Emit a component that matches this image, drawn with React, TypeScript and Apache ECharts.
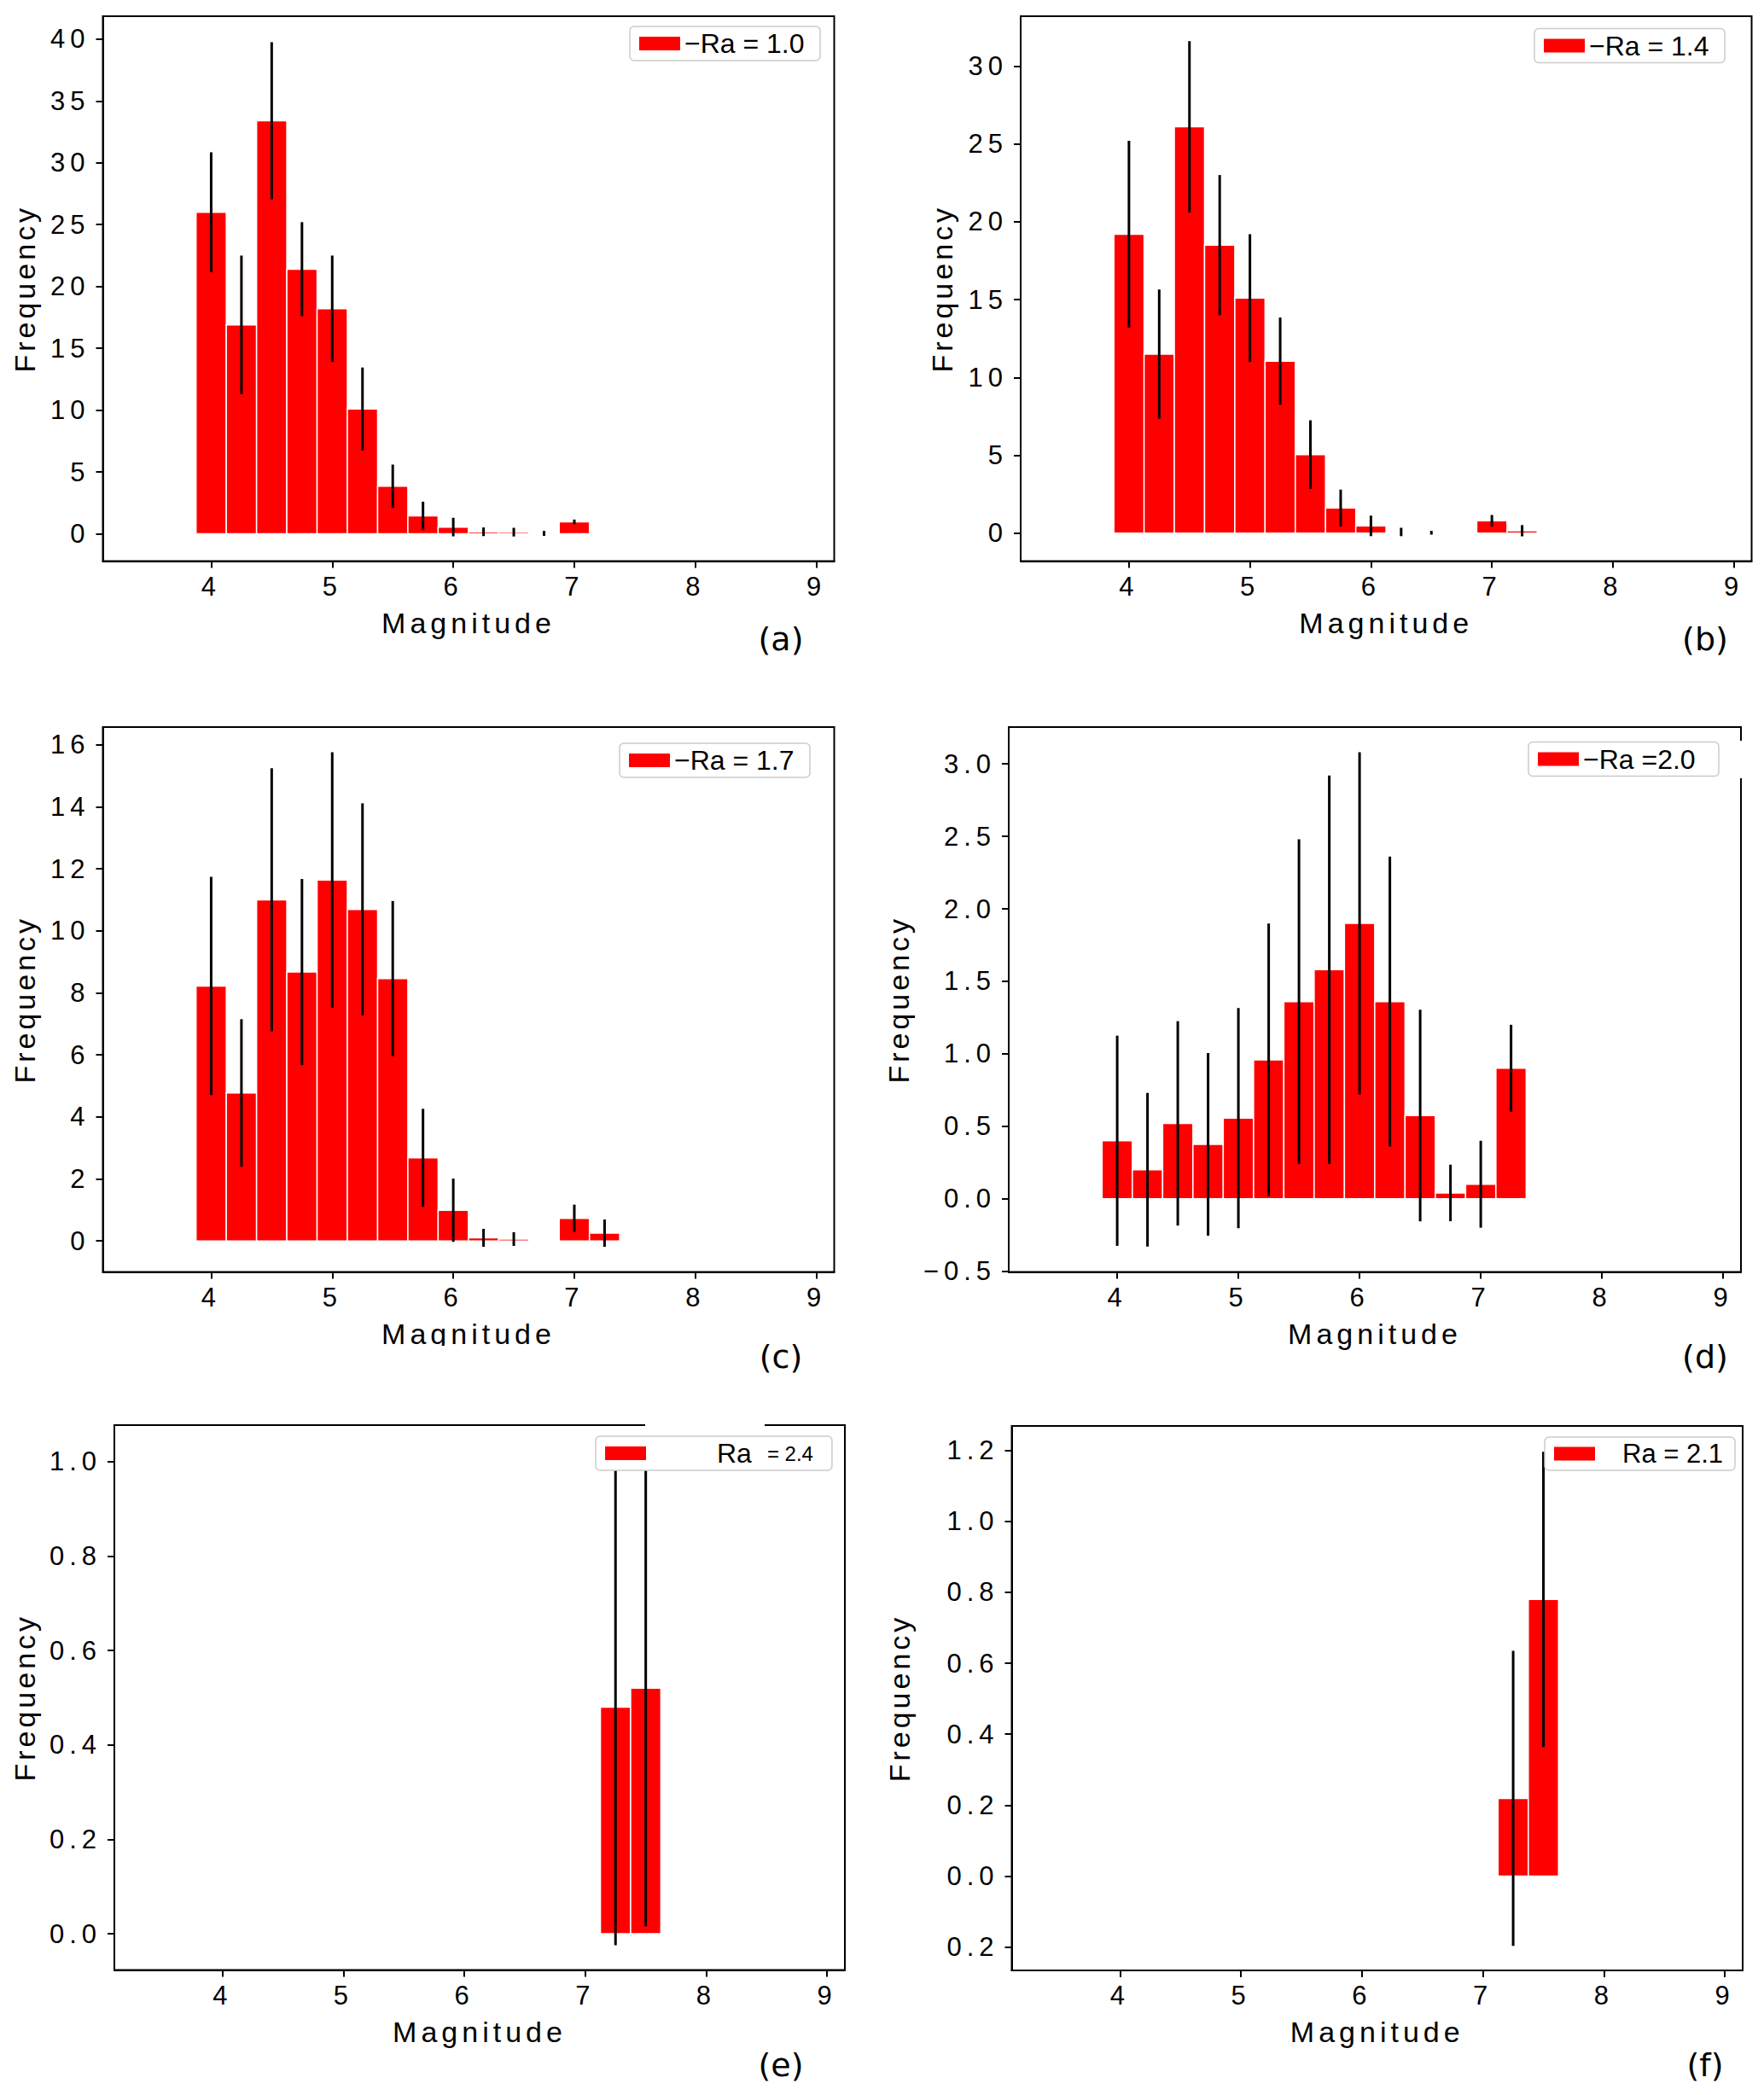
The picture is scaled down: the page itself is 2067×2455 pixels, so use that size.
import { useEffect, useRef } from 'react';
import * as echarts from 'echarts';

// bin centres (magnitude)
const bins = [4.0, 4.25, 4.5, 4.75, 5.0, 5.25, 5.5, 5.75, 6.0, 6.25, 6.5, 6.75, 7.0, 7.25];
const binsTail = [7.25, 7.5];

// frequencies and error half-widths
const freqA = [26.0, 16.9, 33.4, 21.4, 18.2, 10.1, 3.85, 1.45, 0.55, 0.17, 0.14, 0.04, 0.97, null];
const errA = [4.85, 5.6, 6.35, 3.8, 4.3, 3.35, 1.75, 1.15, 0.75, 0.35, 0.35, 0.2, 0.19, null];

const freqB = [19.2, 11.5, 26.1, 18.5, 15.1, 11.05, 5.05, 1.62, 0.47, 0.08, 0.03, null, 0.8, 0.16];
const errB = [6.0, 4.15, 5.5, 4.5, 4.1, 2.8, 2.2, 1.18, 0.66, 0.27, 0.12, null, 0.37, 0.36];

const freqC = [8.22, 4.77, 11.0, 8.67, 11.64, 10.69, 8.46, 2.68, 0.99, 0.1, 0.06, null, 0.73, 0.25];
const errC = [3.52, 2.38, 4.24, 3.0, 4.12, 3.42, 2.5, 1.58, 1.02, 0.29, 0.22, null, 0.44, 0.44];

const freqD = [0.4, 0.2, 0.52, 0.375, 0.556, 0.958, 1.36, 1.58, 1.9, 1.36, 0.574, 0.04, 0.1, 0.9];
const errD = [0.725, 0.53, 0.705, 0.63, 0.76, 0.94, 1.12, 1.34, 1.18, 1.0, 0.73, 0.195, 0.3, 0.3];

const freqE = [0.48, 0.52];
const errE = [0.504, 0.504];

const freqF = [0.219, 0.78];
const errF = [0.416, 0.416];

const xTicks = [4, 5, 6, 7, 8, 9];
const yTicksA = [0, 5, 10, 15, 20, 25, 30, 35, 40];
const yTicksB = [0, 5, 10, 15, 20, 25, 30];
const yTicksC = [0, 2, 4, 6, 8, 10, 12, 14, 16];
const yTicksD = [-0.5, 0, 0.5, 1.0, 1.5, 2.0, 2.5, 3.0];
const yTicksE = [0, 0.2, 0.4, 0.6, 0.8, 1.0];
const yTicksF = [-0.2, 0, 0.2, 0.4, 0.6, 0.8, 1.0, 1.2];

const legendLabels = ['−Ra = 1.0', '−Ra = 1.4', '−Ra = 1.7', '−Ra =2.0', 'Ra = 2.4', 'Ra = 2.1'];
const panelTags = ['(a)', '(b)', '(c)', '(d)', '(e)', '(f)'];

const FONT = 'Liberation Sans';
const RED = '#ff0000';

const int = (v: number) => String(v);
const dec = (v: number) => (v < 0 ? '−' + Math.abs(v).toFixed(1) : v.toFixed(1));
const absDec = (v: number) => Math.abs(v).toFixed(1);

const panels = [
    { bins, freq: freqA, err: errA, yTicks: yTicksA, yMin: -2.2, yMax: 41.85, fmt: int,
      grid: { left: 120.5, top: 19, width: 857, height: 638.5 }, yGap: 75,
      legend: { left: 738, top: 31 }, textW: 149, tag: [915, 749] },
    { bins, freq: freqB, err: errB, yTicks: yTicksB, yMin: -1.79, yMax: 33.2, fmt: int,
      grid: { left: 1196, top: 19, width: 856.5, height: 638.5 }, yGap: 75,
      legend: { left: 1798, top: 33.5 }, textW: 149, tag: [1998, 749] },
    { bins, freq: freqC, err: errC, yTicks: yTicksC, yMin: -1.0, yMax: 16.57, fmt: int,
      grid: { left: 120.5, top: 852, width: 857, height: 638.5 }, yGap: 75,
      legend: { left: 726, top: 871 }, textW: 149, tag: [915, 1590] },
    { bins, freq: freqD, err: errD, yTicks: yTicksD, yMin: -0.505, yMax: 3.254, fmt: dec,
      grid: { left: 1182, top: 852, width: 858, height: 638.5 }, yGap: 112,
      legend: { left: 1791, top: 869.5 }, textW: 149, tag: [1998, 1590] },
    { bins: binsTail, freq: freqE, err: errE, yTicks: yTicksE, yMin: -0.0766, yMax: 1.077, fmt: dec,
      grid: { left: 134, top: 1670, width: 856, height: 638.5 }, yGap: 88,
      legend: { left: 698, top: 1683 }, textW: 207, tag: [915, 2420] },
    { bins: binsTail, freq: freqF, err: errF, yTicks: yTicksF, yMin: -0.266, yMax: 1.269, fmt: absDec,
      grid: { left: 1185.5, top: 1671, width: 856.5, height: 638 }, yGap: 115,
      legend: { left: 1810, top: 1684 }, textW: 149, tag: [1998, 2420] },
];

function legendText(i: number, name: string) {
    if (i === 4) return `{e|Ra}{s|= 2.4}`;
    if (i === 5) return `{f|${name}}`;
    return `{t|${name}}`;
}

// the original figure uses loosely tracked axis texts
function spaceAxisTexts(root: HTMLElement) {
    root.querySelectorAll('svg text').forEach((t) => {
        const s = t.textContent || '';
        if (s === 'Magnitude') t.setAttribute('letter-spacing', '5');
        else if (s === 'Frequency') t.setAttribute('letter-spacing', '4');
        else if (/^[−-]?\d+(\.\d+)?$/.test(s)) t.setAttribute('letter-spacing', '6');
    });
}

export default function App() {
    const chartRef = useRef<HTMLDivElement>(null);

    useEffect(() => {
        document.body.style.margin = '0';
        const el = chartRef.current;
        if (!el) return;
        const chart = echarts.init(el, undefined, { renderer: 'svg' });

        const grid: any[] = [];
        const xAxis: any[] = [];
        const yAxis: any[] = [];
        const series: any[] = [];
        const legend: any[] = [];
        const graphic: any[] = [];

        panels.forEach((p, i) => {
            grid.push({ ...p.grid, show: true, borderColor: '#000', borderWidth: 2, containLabel: false });

            xAxis.push({
                type: 'value',
                gridIndex: i,
                min: 3.105,
                max: 9.147,
                name: 'Magnitude',
                nameLocation: 'middle',
                nameGap: 55,
                nameTextStyle: { fontSize: 34, color: '#000', fontFamily: FONT },
                axisLine: { show: true, onZero: false, lineStyle: { color: '#000', width: 2 } },
                axisTick: { show: true, customValues: xTicks, length: 8, lineStyle: { color: '#000', width: 2 } },
                axisLabel: { customValues: xTicks, fontSize: 31, color: '#000', fontFamily: FONT, margin: 14 },
                splitLine: { show: false },
            });

            yAxis.push({
                type: 'value',
                gridIndex: i,
                min: p.yMin,
                max: p.yMax,
                name: 'Frequency',
                nameLocation: 'middle',
                nameGap: p.yGap,
                nameTextStyle: { fontSize: 34, color: '#000', fontFamily: FONT },
                axisLine: { show: true, onZero: false, lineStyle: { color: '#000', width: 2 } },
                axisTick: { show: true, customValues: p.yTicks, length: 8, lineStyle: { color: '#000', width: 2 } },
                axisLabel: { customValues: p.yTicks, fontSize: 31, color: '#000', fontFamily: FONT, margin: 15, formatter: p.fmt },
                splitLine: { show: false },
            });

            const barData: number[][] = [];
            const errData: number[][] = [];
            p.bins.forEach((b, k) => {
                const v = p.freq[k];
                const e = p.err[k];
                if (v == null) return;
                barData.push([b, v]);
                if (e != null) errData.push([b, v - e, v + e]);
            });

            series.push({
                name: legendLabels[i],
                type: 'custom',
                xAxisIndex: i,
                yAxisIndex: i,
                itemStyle: { color: RED },
                data: barData,
                renderItem: (_params: any, api: any) => {
                    const x = api.value(0);
                    const y = api.value(1);
                    const p0 = api.coord([x - 0.125, y]);
                    const p1 = api.coord([x + 0.125, 0]);
                    return {
                        type: 'rect',
                        shape: { x: p0[0], y: p0[1], width: p1[0] - p0[0], height: p1[1] - p0[1] },
                        style: { fill: RED, stroke: '#ffffff', lineWidth: 1.5 },
                    };
                },
            });

            series.push({
                name: 'err' + i,
                type: 'custom',
                xAxisIndex: i,
                yAxisIndex: i,
                z: 3,
                data: errData,
                renderItem: (_params: any, api: any) => {
                    const x = api.value(0);
                    const lo = api.coord([x, api.value(1)]);
                    const hi = api.coord([x, api.value(2)]);
                    return {
                        type: 'line',
                        shape: { x1: lo[0], y1: lo[1], x2: hi[0], y2: hi[1] },
                        style: { stroke: '#000', lineWidth: 3 },
                    };
                },
            });

            legend.push({
                data: [legendLabels[i]],
                left: p.legend.left,
                top: p.legend.top,
                orient: 'horizontal',
                selectedMode: false,
                icon: 'rect',
                itemWidth: 48,
                itemHeight: 16,
                itemStyle: { color: RED, borderWidth: 0 },
                padding: [4, 10, 4, 11],
                backgroundColor: '#ffffff',
                borderColor: '#cccccc',
                borderWidth: 1.5,
                borderRadius: 5,
                z: 10,
                formatter: (name: string) => legendText(i, name),
                textStyle: {
                    color: '#000',
                    fontFamily: FONT,
                    fontSize: 32,
                    rich: {
                        t: { fontSize: 32, fontFamily: FONT, color: '#000', width: p.textW, lineHeight: 34 },
                        f: { fontSize: 31, fontFamily: FONT, color: '#000', width: p.textW - 27, lineHeight: 34, padding: [0, 0, 0, 27] },
                        e: { fontSize: 32, fontFamily: FONT, color: '#000', lineHeight: 34, padding: [0, 0, 0, 78] },
                        s: { fontSize: 24, fontFamily: FONT, color: '#000', lineHeight: 34, width: 66, padding: [0, 0, 0, 18] },
                    },
                },
            });

            graphic.push({
                type: 'text',
                x: p.tag[0],
                y: p.tag[1],
                z: 20,
                style: {
                    text: panelTags[i],
                    fontSize: 38,
                    fontFamily: 'DejaVu Sans',
                    fill: '#000',
                    align: 'center',
                    verticalAlign: 'middle',
                },
            });
        });

        // gaps and clipping seen in the original figure
        graphic.push(
            { type: 'rect', z: 100, shape: { x: 756, y: 1666, width: 140, height: 8 }, style: { fill: '#fff' } },
            { type: 'rect', z: 100, shape: { x: 2035, y: 868, width: 10, height: 44 }, style: { fill: '#fff' } },
            { type: 'rect', z: 100, shape: { x: 420, y: 1577, width: 270, height: 24 }, style: { fill: '#fff' } },
        );

        const onFinished = () => spaceAxisTexts(el);
        chart.on('finished', onFinished);

        chart.setOption({
            animation: false,
            backgroundColor: '#ffffff',
            grid,
            xAxis,
            yAxis,
            legend,
            series,
            graphic,
        });
        spaceAxisTexts(el);

        return () => {
            chart.off('finished', onFinished);
            chart.dispose();
        };
    }, []);

    return <div ref={chartRef} style={{ width: '2067px', height: '2455px' }}></div>;
}
